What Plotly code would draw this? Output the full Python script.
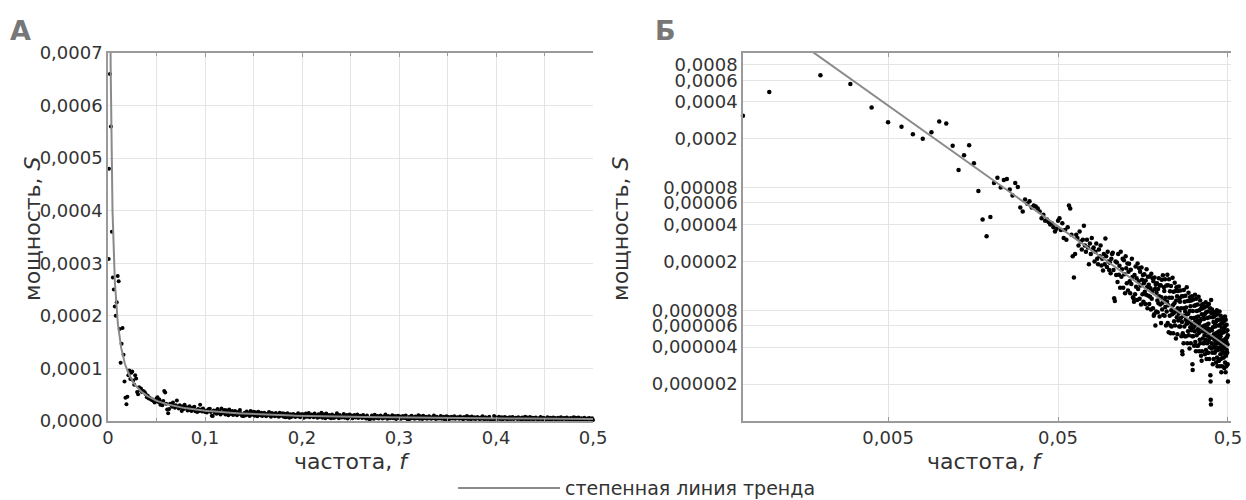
import numpy as np
import plotly.graph_objects as go

# ---- spectrum data: power S in units of 1e-6 ----
# low frequencies, point by point
low_freq = [0.0007, 0.001, 0.002, 0.003, 0.004, 0.005, 0.006, 0.007, 0.008, 0.009, 0.010,
            0.011, 0.012, 0.013, 0.014, 0.015, 0.016, 0.017, 0.018, 0.019, 0.020,
            0.021, 0.022, 0.023, 0.024, 0.025, 0.026, 0.027, 0.028, 0.029, 0.030,
            0.031, 0.032, 0.033, 0.034, 0.035, 0.036, 0.037, 0.038, 0.039, 0.040,
            0.041, 0.042, 0.043, 0.044, 0.045, 0.046, 0.047, 0.048, 0.049, 0.050]
low_power_u = [308, 480, 660, 560, 360, 273, 250, 218, 200, 226, 276,
               266, 175, 111, 147, 177, 126, 75, 44, 32, 46,
               87, 96, 80, 92, 94, 77, 69, 87, 81, 55,
               51, 64, 59, 62, 55, 57, 56, 54, 51, 45,
               48, 43, 44, 42, 40, 41, 38, 35, 37, 43]

# higher frequencies on the regular grid 0.051 ... 0.500
grid_start = 0.051
grid_step = 0.001
grid_power_u = [
    45, 36, 41, 31, 36, 30, 38, 57, 54, 33,
    22, 14.8, 23, 33, 31, 27, 35, 29, 25, 30,
    39, 27, 24, 30, 26, 19, 28, 23, 31, 25,
    26, 20, 24, 28, 21, 19, 25, 22, 27, 18.5,
    21, 16.9, 23, 19, 30.7, 22, 18, 24, 20, 17,
    19.5, 16, 21, 23, 23.5, 17, 10, 9.5, 20, 15.5,
    19.6, 13.6, 23, 15.6, 18.4, 12.2, 24, 15.0, 17.3, 21,
    12.2, 20.4, 15.7, 11.0, 22, 17.6, 13.3, 19.2, 11.6, 16.5,
    19.1, 13.8, 11.0, 17.1, 13.1, 21, 14.9, 10.2, 10.0, 9.4,
    15.5, 10.8, 18.2, 12.4, 14.6, 9.7, 19.2, 11.9, 13.8, 17.6,
    9.9, 16.5, 12.7, 8.9, 17.8, 14.2, 10.8, 15.5, 9.4, 13.3,
    15.7, 11.3, 9.0, 14.0, 10.7, 17.3, 12.3, 8.3, 15.0, 10.5,
    12.9, 9.0, 15.1, 10.3, 12.1, 8.1, 15.9, 9.9, 11.4, 14.6,
    8.3, 13.8, 7.2, 7.4, 14.8, 11.9, 6.0, 12.9, 7.8, 11.1,
    13.3, 9.6, 7.7, 11.9, 9.1, 14.6, 10.4, 7.1, 12.7, 8.9,
    12.8, 6.3, 10.2, 14.2, 8.1, 9.2, 15.4, 7.3, 9.6, 12.3,
    11.5, 7.2, 14.3, 8.5, 10.1, 6.0, 12.7, 7.8, 9.4, 15.6,
    6.3, 12.8, 8.8, 5.3, 14.3, 10.1, 7.2, 11.4, 6.0, 5.2,
    12.6, 8.0, 5.9, 10.1, 7.4, 14.7, 8.8, 5.2, 11.3, 7.6,
    6.5, 9.1, 13.4, 6.0, 7.9, 11.5, 4.7, 9.6, 12.3, 7.0,
    10.4, 5.1, 8.3, 11.5, 6.6, 7.5, 12.5, 5.9, 7.8, 10.0,
    9.4, 5.9, 11.6, 6.9, 8.3, 4.9, 10.4, 6.4, 3.7, 3.5,
    5.2, 10.4, 7.2, 4.3, 11.7, 8.3, 5.9, 9.4, 4.9, 7.8,
    10.5, 6.7, 4.9, 8.4, 6.2, 12.3, 7.4, 4.3, 9.5, 6.3,
    5.4, 7.5, 11.1, 5.0, 6.6, 9.5, 3.9, 7.9, 10.2, 5.8,
    8.6, 4.3, 6.9, 9.6, 5.5, 6.2, 10.4, 4.9, 2.9, 2.6,
    7.9, 4.9, 9.8, 5.8, 6.9, 4.1, 8.7, 5.4, 6.4, 10.7,
    4.4, 8.8, 6.1, 3.7, 9.9, 7.0, 5.0, 7.9, 4.1, 6.6,
    8.9, 5.6, 4.1, 7.1, 5.2, 10.3, 6.2, 3.7, 8.0, 5.3,
    4.6, 6.5, 9.6, 4.3, 5.7, 8.2, 3.4, 6.8, 8.8, 3.1,
    7.4, 3.7, 5.9, 8.3, 4.7, 5.4, 9.0, 4.3, 5.6, 7.2,
    6.8, 4.3, 8.4, 5.0, 6.0, 3.5, 7.5, 4.6, 5.6, 9.3,
    3.8, 7.7, 5.3, 3.2, 8.6, 6.1, 4.3, 6.9, 3.6, 5.7,
    7.8, 4.9, 3.6, 6.2, 4.5, 9.0, 5.4, 3.2, 7.0, 4.7,
    4.0, 5.6, 8.3, 2.36, 2.1, 1.49, 1.36, 9.7, 7.6, 4.3,
    3.9, 5.5, 8.1, 3.6, 4.8, 7.0, 2.9, 5.8, 7.5, 4.2,
    6.4, 3.2, 5.1, 7.1, 4.0, 4.6, 7.7, 3.6, 4.8, 6.1,
    5.9, 3.7, 7.3, 4.3, 5.2, 3.0, 6.5, 4.0, 4.8, 8.0,
    3.3, 6.7, 4.6, 2.8, 7.4, 5.3, 3.8, 6.0, 3.1, 5.0,
    6.7, 4.3, 3.1, 5.4, 3.9, 7.8, 4.7, 2.8, 6.0, 4.0,
    3.5, 4.9, 7.2, 3.2, 4.3, 6.2, 2.5, 5.2, 6.7, 3.8,
    5.7, 2.8, 4.5, 6.3, 3.6, 4.1, 6.9, 3.3, 4.3, 5.5,
    5.3, 3.3, 6.5, 3.9, 4.6, 2.7, 5.8, 3.6, 4.3, 7.1,
    3.0, 6.0, 4.1, 2.5, 6.7, 4.7, 3.4, 5.4, 2.8, 4.4,
    6.1, 3.8, 2.9, 4.8, 3.6, 5.5, 4.2, 2.9, 5.0, 2.1,
]

# power-law trend S = a * f^b
trend_coef = 2.02e-6
trend_exp = -0.985

# tick labels
lin_x_vals = [0, 0.1, 0.2, 0.3, 0.4, 0.5]
lin_x_text = ["0", "0,1", "0,2", "0,3", "0,4", "0,5"]
lin_y_vals = [0, 0.0001, 0.0002, 0.0003, 0.0004, 0.0005, 0.0006, 0.0007]
lin_y_text = ["0,0000", "0,0001", "0,0002", "0,0003", "0,0004", "0,0005", "0,0006", "0,0007"]
log_x_vals = [0.005, 0.05, 0.5]
log_x_text = ["0,005", "0,05", "0,5"]
log_y_vals = [0.0008, 0.0006, 0.0004, 0.0002, 0.00008, 0.00006, 0.00004, 0.00002,
              0.000008, 0.000006, 0.000004, 0.000002]
log_y_text = ["0,0008", "0,0006", "0,0004", "0,0002", "0,00008", "0,00006", "0,00004",
              "0,00002", "0,000008", "0,000006", "0,000004", "0,000002"]

# ---- assemble series ----
grid_freq = [round(grid_start + i * grid_step, 3) for i in range(len(grid_power_u))]
freq = low_freq + grid_freq
power = [v * 1e-6 for v in (low_power_u + grid_power_u)]

trend_f = np.geomspace(0.0012, 0.5, 400)
trend_s = trend_coef * trend_f ** trend_exp

FONT = "DejaVu Sans"
TXT = "#333333"
AXIS = "#9a9a9a"
GRID = "#e4e4e4"

fig = go.Figure()

for xa, ya, msize in (("x", "y", 4), ("x2", "y2", 4.5)):
    fig.add_trace(go.Scatter(x=freq, y=power, mode="markers", xaxis=xa, yaxis=ya,
                             marker=dict(color="#000000", size=msize),
                             cliponaxis=False, showlegend=False))
    fig.add_trace(go.Scatter(x=trend_f, y=trend_s, mode="lines", xaxis=xa, yaxis=ya,
                             line=dict(color="#8a8a8a", width=2),
                             name="степенная линия тренда", showlegend=False))

common_axis = dict(showline=True, linecolor=AXIS, linewidth=1.5, gridcolor=GRID,
                   gridwidth=1, zeroline=False, automargin=False,
                   tickcolor=AXIS, tickfont=dict(family=FONT, size=18, color=TXT))

fig.update_layout(
    width=1246, height=500,
    margin=dict(l=108, r=15, t=53, b=79),
    paper_bgcolor="white", plot_bgcolor="white",
    showlegend=False,
    xaxis=dict(domain=[0, 0.4319], range=[0, 0.5], tickvals=lin_x_vals,
               ticktext=lin_x_text, mirror="ticks", ticks="inside", ticklen=4,
               minor=dict(dtick=0.05, showgrid=True, gridcolor=GRID, ticks="inside",
                          ticklen=3, tickcolor=AXIS),
               anchor="y", **common_axis),
    yaxis=dict(range=[0, 0.0007], tickvals=lin_y_vals, ticktext=lin_y_text,
               anchor="x", ticks="", **common_axis),
    xaxis2=dict(domain=[0.5654, 1], type="log",
                range=[np.log10(0.0007), np.log10(0.521)],
                tickvals=log_x_vals, ticktext=log_x_text, mirror="ticks",
                ticks="inside", ticklen=4, anchor="y2", **common_axis),
    yaxis2=dict(type="log", range=[-6, -3], tickvals=log_y_vals, ticktext=log_y_text,
                anchor="x2", ticks="", **common_axis),
)

ann_font = dict(family=FONT, size=22, color=TXT)
annotations = [
    dict(text="мощность, <i>S</i>", x=-0.0668, y=0.5245, textangle=-90),
    dict(text="мощность, <i>S</i>", x=0.4568, y=0.5245, textangle=-90),
    dict(text="частота, <i>f</i>", x=0.2173, y=-0.1114),
    dict(text="частота, <i>f</i>", x=0.781, y=-0.1114),
]
for a in annotations:
    fig.add_annotation(xref="paper", yref="paper", showarrow=False,
                       xanchor="center", yanchor="middle", font=ann_font, **a)

# panel letters
for letter, px in (("А", -0.0775), ("Б", 0.4966)):
    fig.add_annotation(text="<b>" + letter + "</b>", xref="paper", yref="paper",
                       x=px, y=1.0625, showarrow=False, xanchor="center", yanchor="middle",
                       font=dict(family=FONT, size=27, color="#777777"))

# legend for the trend line
fig.add_shape(type="line", xref="paper", yref="paper", x0=0.3117, x1=0.4025,
              y0=-0.182, y1=-0.182, line=dict(color="#8a8a8a", width=2))
fig.add_annotation(text="степенная линия тренда", xref="paper", yref="paper",
                   x=0.4052, y=-0.182, showarrow=False, xanchor="left", yanchor="middle",
                   font=dict(family=FONT, size=19, color=TXT))

fig.write_html("out.html")
